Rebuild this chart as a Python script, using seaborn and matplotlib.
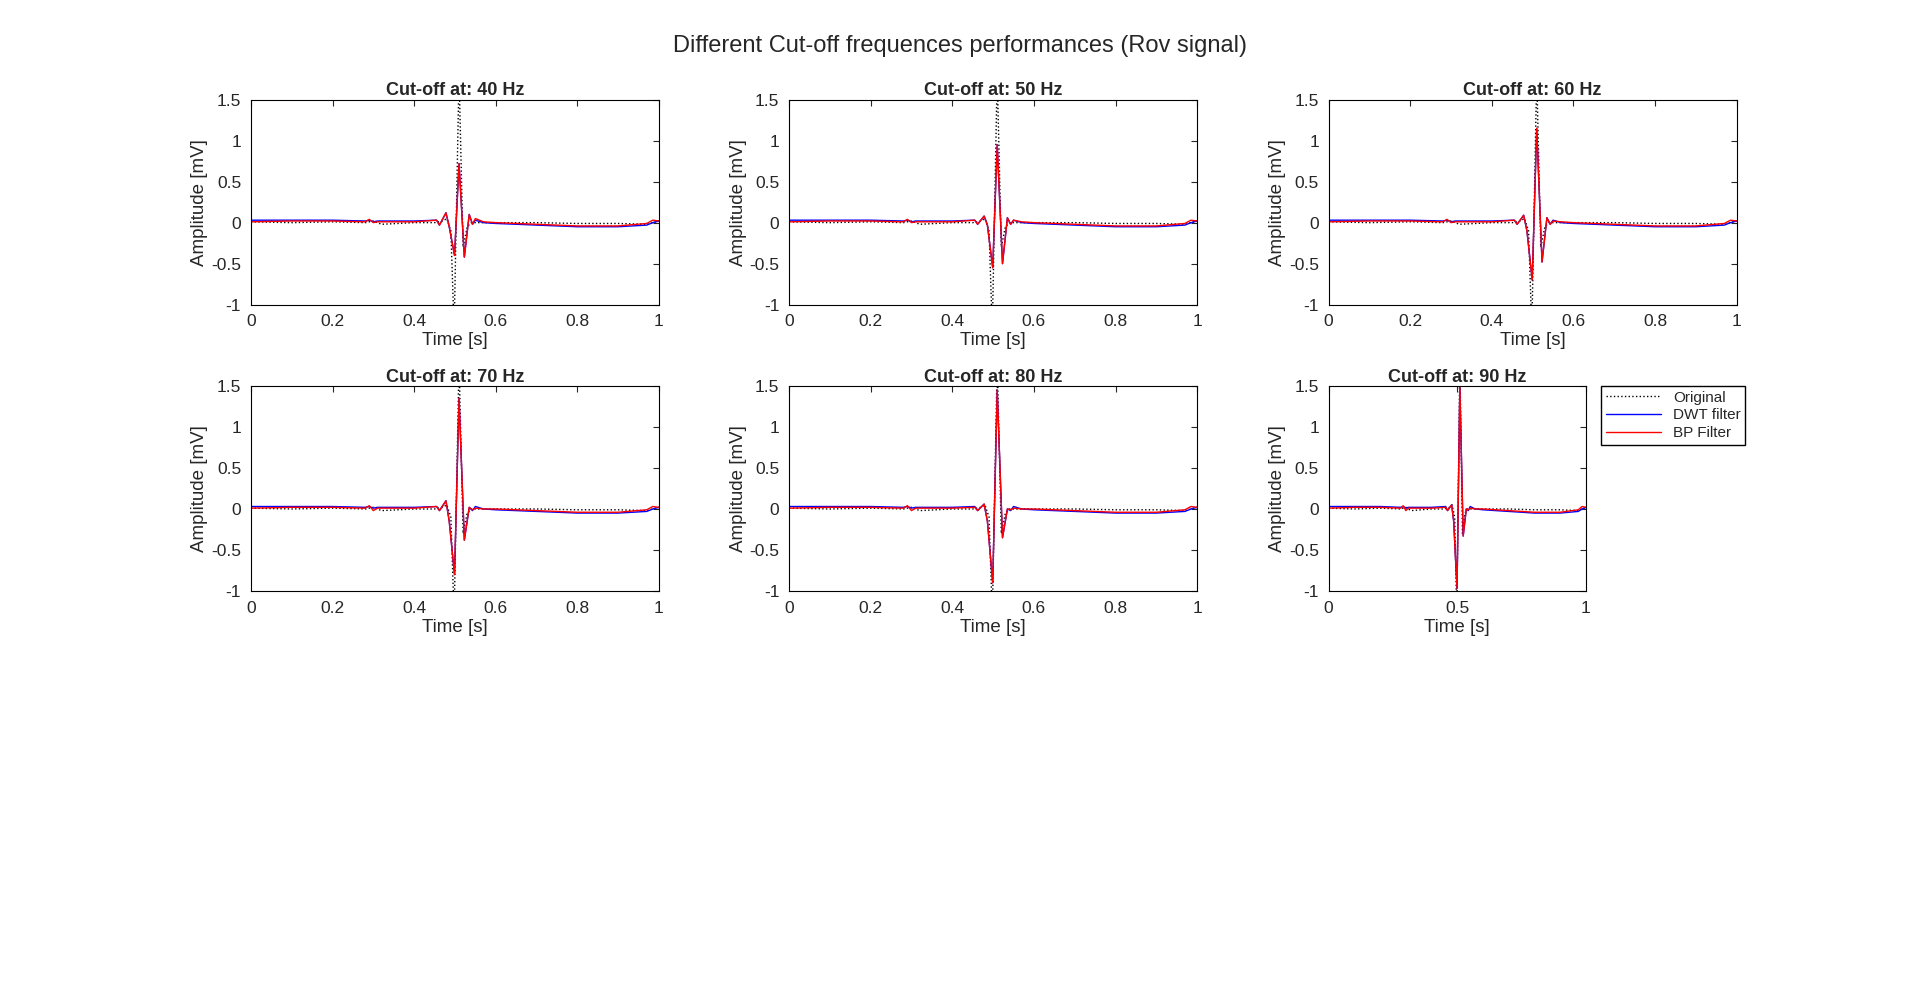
import numpy as np
import pandas as pd
import seaborn as sns
import matplotlib
matplotlib.use("Agg")
from matplotlib import pyplot as plt

cutoffs = [40, 50, 60, 70, 80, 90]

# original signal, time in s, amplitude in mV
t_orig = [0, 0.1, 0.2, 0.28, 0.30, 0.32, 0.40, 0.45, 0.47, 0.48, 0.49, 0.498, 0.51, 0.52, 0.53, 0.54, 0.6, 0.7, 0.8, 0.9, 0.97, 1.0]
v_orig = [0.01, 0.0, 0.01, 0.0, 0.02, -0.02, 0.0, 0.0, 0.02, 0.05, -0.1, -1.3, 1.8, -0.3, -0.05, 0.0, 0.0, 0.0, -0.01, -0.01, -0.02, 0.02]

# filtered signals: shared time knots
t_filt = [0, 0.1, 0.2, 0.28, 0.29, 0.30, 0.31, 0.40, 0.455, 0.462, 0.478, 0.486, 0.499, 0.510, 0.523, 0.535, 0.543, 0.55, 0.57, 0.6, 0.7, 0.8, 0.9, 0.97, 0.985, 1.0]

bp_vals = {
    40: [0.01, 0.02, 0.02, 0.01, 0.04, 0.0, 0.01, 0.01, 0.03, -0.03, 0.12, -0.05, -0.40, 0.72, -0.42, 0.10, -0.02, 0.05, 0.01, 0.0, -0.02, -0.04, -0.04, -0.01, 0.03, 0.02],
    50: [0.01, 0.02, 0.02, 0.01, 0.04, 0.0, 0.01, 0.01, 0.03, -0.02, 0.08, -0.03, -0.55, 0.95, -0.50, 0.06, -0.02, 0.03, 0.01, 0.0, -0.02, -0.04, -0.04, -0.01, 0.03, 0.02],
    60: [0.01, 0.02, 0.02, 0.01, 0.04, 0.0, 0.01, 0.01, 0.03, -0.02, 0.09, -0.10, -0.70, 1.15, -0.48, 0.06, -0.02, 0.02, 0.01, 0.0, -0.02, -0.04, -0.04, -0.01, 0.03, 0.02],
    70: [0.01, 0.02, 0.02, 0.01, 0.04, -0.02, 0.01, 0.01, 0.03, -0.02, 0.10, -0.15, -0.80, 1.35, -0.38, 0.02, -0.01, 0.01, 0.0, 0.0, -0.02, -0.04, -0.04, -0.01, 0.03, 0.02],
    80: [0.01, 0.02, 0.02, 0.01, 0.04, -0.02, 0.01, 0.01, 0.02, -0.02, 0.06, -0.15, -0.90, 1.45, -0.35, 0.0, -0.01, 0.01, 0.0, 0.0, -0.02, -0.04, -0.04, -0.01, 0.03, 0.02],
    90: [0.01, 0.02, 0.02, 0.01, 0.04, -0.02, 0.01, 0.01, 0.02, -0.02, 0.05, -0.15, -0.97, 1.50, -0.33, 0.0, -0.01, 0.01, 0.0, 0.0, -0.02, -0.04, -0.04, -0.01, 0.03, 0.02],
}
# DWT filter differs mainly in baseline (QRS part follows the BP filter)
dwt_base = [0.03, 0.03, 0.03, 0.02, 0.03, 0.01, 0.02, 0.02, 0.03, -0.03, 0.0, 0.0, 0.0, 0.0, 0.0, 0.0, -0.02, 0.03, 0.0, -0.01, -0.03, -0.05, -0.05, -0.03, 0.0, 0.02]

xticks = {0: [0, 0.2, 0.4, 0.6, 0.8, 1], 1: [0, 0.5, 1]}
yticks = [-1, -0.5, 0, 0.5, 1, 1.5]

sns.set_style("white")
plt.rcParams["font.family"] = ["Liberation Sans", "DejaVu Sans"]
plt.rcParams["axes.unicode_minus"] = False

fig = plt.figure(figsize=(19.2, 9.86), dpi=100)
fig.suptitle("Different Cut-off frequences performances (Rov signal)", fontsize=17, y=0.965)

lefts = [0.1307, 0.411, 0.692]
bottoms = [0.691, 0.4006]


def lab(v):
    return f"{v:g}"


for i, fc in enumerate(cutoffs):
    r, c = divmod(i, 3)
    w = 0.134 if i == 5 else 0.2125
    ax = fig.add_axes([lefts[c], bottoms[r], w, 0.208])
    bp = bp_vals[fc]
    dwt = [bp[k] if 9 <= k <= 15 else dwt_base[k] for k in range(len(bp))]
    sns.lineplot(x=t_orig, y=v_orig, ax=ax, color="black", linestyle=":", linewidth=1, label="Original")
    sns.lineplot(x=t_filt, y=dwt, ax=ax, color="#0000ff", linewidth=1, label="DWT filter")
    sns.lineplot(x=t_filt, y=bp, ax=ax, color="#ff0000", linewidth=1, label="BP Filter")
    ax.set_xlim(0, 1)
    ax.set_ylim(-1, 1.5)
    xt = xticks[1 if i == 5 else 0]
    ax.set_xticks(xt)
    ax.set_xticklabels([lab(v) for v in xt])
    ax.set_yticks(yticks)
    ax.set_yticklabels([lab(v) for v in yticks])
    ax.tick_params(direction="in", top=True, right=True, labelsize=12.5, length=4, pad=7)
    for s in ax.spines.values():
        s.set_linewidth(0.8)
        s.set_color("black")
    ax.set_title(f"Cut-off at: {fc} Hz", fontsize=13, fontweight="bold", pad=3)
    ax.set_xlabel("Time [s]", fontsize=13.5, labelpad=2)
    ax.set_ylabel("Amplitude [mV]", fontsize=13.5, labelpad=2)
    if i == 5:
        ax.legend(loc="upper left", bbox_to_anchor=(1.06, 1.0), borderaxespad=0, fontsize=11,
                  frameon=True, fancybox=False, edgecolor="black", borderpad=0.3,
                  handlelength=3.6, labelspacing=0.25, framealpha=1)
    else:
        ax.get_legend().remove()

plt.savefig("out.png", dpi=100)
